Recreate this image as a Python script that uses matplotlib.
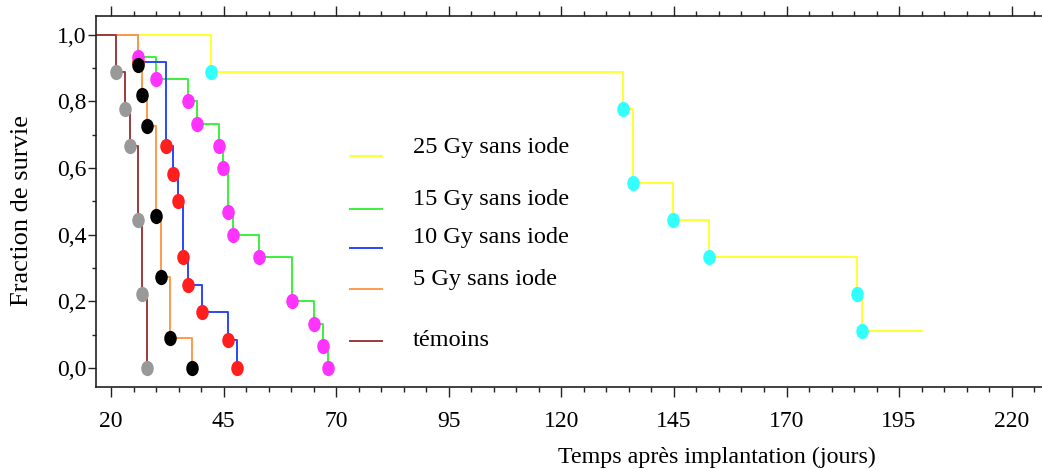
import matplotlib
matplotlib.use('Agg')
import matplotlib.pyplot as plt
from matplotlib.path import Path
from matplotlib.transforms import Affine2D
from matplotlib.ticker import MultipleLocator, FixedLocator, FuncFormatter

# ---------------- data ----------------
labels = ["25 Gy sans iode", "15 Gy sans iode", "10 Gy sans iode", "5 Gy sans iode", "témoins"]

t25 = [42.2, 133.8, 135.8, 144.9, 152.7, 185.7, 186.7]
s25 = [0.889, 0.778, 0.556, 0.444, 0.333, 0.222, 0.111]
end25 = 200.0

t15 = [25.9, 30.0, 37.0, 39.1, 43.9, 44.9, 46.0, 47.0, 52.9, 60.1, 65.0, 67.1, 68.1]
s15 = [0.933, 0.867, 0.800, 0.733, 0.667, 0.600, 0.467, 0.400, 0.333, 0.200, 0.133, 0.067, 0.0]

t10 = [25.9, 32.2, 33.8, 34.8, 35.9, 37.0, 40.1, 46.0, 48.0]
s10 = [0.917, 0.667, 0.583, 0.500, 0.333, 0.250, 0.167, 0.083, 0.0]

t5 = [25.9, 26.9, 27.9, 30.0, 31.0, 33.2, 38.0]
s5 = [0.909, 0.818, 0.727, 0.455, 0.273, 0.091, 0.0]

tT = [21.1, 23.1, 24.1, 25.9, 26.8, 27.9]
sT = [0.889, 0.778, 0.667, 0.444, 0.222, 0.0]

xticks = [20, 45, 70, 95, 120, 145, 170, 195, 220]
yticks = [0.0, 0.2, 0.4, 0.6, 0.8, 1.0]

line_colors = ["#ffff33", "#3cf03c", "#2b45ff", "#ff9a4a", "#9c3b3b"]
dot_colors = ["#33ffff", "#ff33ff", "#ff1f1f", "#000000", "#999999"]

# ---------------- figure ----------------
plt.rcParams['font.family'] = ['Liberation Serif', 'DejaVu Serif']
W, H = 1042, 470
fig = plt.figure(figsize=(W / 100, H / 100), dpi=100)
ax = fig.add_axes([96 / W, 1 - 387 / H, 1 - 96 / W + 0.002, (387 - 16) / H])

ellipse = Path.unit_circle().transformed(Affine2D().scale(0.82, 1.0))

def curve(t, s, end=None):
    xs = [0.0] + list(t)
    ys = [1.0] + list(s)
    if end is not None:
        xs.append(end)
        ys.append(s[-1])
    return xs, ys

series = [(t25, s25, end25), (t15, s15, None), (t10, s10, None), (t5, s5, None), (tT, sT, None)]

# lines: bottom to top
for i, (t, s, e) in enumerate(series):
    xs, ys = curve(t, s, e)
    ax.plot(xs, ys, drawstyle='steps-post', color=line_colors[i], lw=1.4, zorder=2 + i * 0.1)

# markers
marker_order = [0, 2, 1, 3, 4]
for k, i in enumerate(marker_order):
    t, s, e = series[i]
    ax.plot(t, s, ls='none', marker=ellipse, ms=11, color=dot_colors[i],
            markeredgewidth=0, zorder=4 + k * 0.1)

ax.set_xlim(16.66, 227.2)
ax.set_ylim(-0.057, 1.056)

ax.xaxis.set_major_locator(FixedLocator(xticks))
ax.xaxis.set_minor_locator(MultipleLocator(5))
ax.yaxis.set_major_locator(FixedLocator(yticks))
ax.yaxis.set_minor_locator(MultipleLocator(0.1))
ax.yaxis.set_major_formatter(FuncFormatter(lambda v, p: f"{v:.1f}".replace('.', ',')))
ax.xaxis.set_major_formatter(FuncFormatter(lambda v, p: f"{int(round(v))}"))

ax.spines['right'].set_visible(False)
for sp in ['left', 'bottom', 'top']:
    ax.spines[sp].set_linewidth(1.2)
    ax.spines[sp].set_color('#222222')

ax.tick_params(axis='x', which='both', direction='out', top=True, bottom=True,
               labeltop=False, color='#222222')
ax.tick_params(axis='x', which='major', length=7, width=1.0, labelsize=17, pad=10)
ax.tick_params(axis='x', which='minor', length=3.5, width=1.0)
ax.tick_params(axis='y', which='both', direction='out', right=False, color='#222222')
ax.tick_params(axis='y', which='major', length=5.5, width=1.0, labelsize=17, pad=1.5)
ax.tick_params(axis='y', which='minor', length=3, width=1.0)

fig.text(22 / W, 1 - 211 / H, "Fraction de survie", rotation=90, ha='center', va='center', fontsize=19)
fig.text(717 / W, 1 - 457 / H, "Temps après implantation (jours)", ha='center', va='center', fontsize=17.3)

# legend (manual)
leg_line_y = [156, 209, 248, 289, 341]
leg_text_y = [147, 199, 237, 279, 340]
for i in range(5):
    fig.add_artist(plt.Line2D([350 / W, 382 / W], [1 - leg_line_y[i] / H] * 2,
                              color=line_colors[i], lw=1.4))
    fig.text(413 / W, 1 - leg_text_y[i] / H, labels[i], ha='left', va='center', fontsize=17.5)

fig.savefig("out.png", dpi=100)
